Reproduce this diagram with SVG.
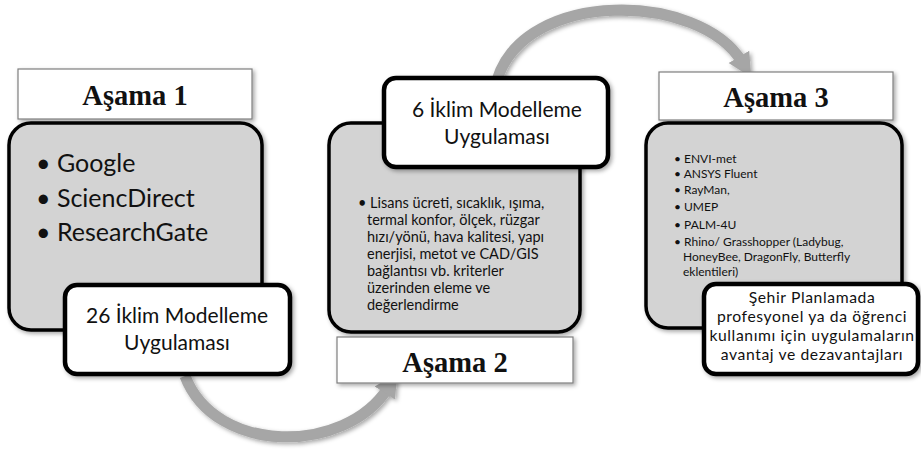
<svg xmlns="http://www.w3.org/2000/svg" width="921" height="450" viewBox="0 0 921 450">
<style>
.lbl{fill:#fff;stroke:#7f7f7f;stroke-width:1.2}
.lbltxt{font-family:"Liberation Serif",serif;font-weight:bold;font-size:28.5px;fill:#111;text-anchor:middle}
.gray{fill:#d3d3d3;stroke:#000;stroke-width:3.5}
.white{fill:#fff;stroke:#000;stroke-width:4.5}
.t{font-family:Lato,"Open Sans",sans-serif;fill:#111}
.c{text-anchor:middle}
.arc{fill:none;stroke:#a6a6a6;stroke-width:11}
</style>
<defs>
<filter id="sh" x="-10%" y="-10%" width="130%" height="130%">
<feDropShadow dx="2" dy="2" stdDeviation="2" flood-color="#000" flood-opacity="0.35"/>
</filter>
<marker id="ah" markerUnits="userSpaceOnUse" markerWidth="30" markerHeight="30" refX="6" refY="15" orient="auto">
<path d="M0,3 L24,15 L0,27 Z" fill="#a6a6a6"/>
</marker>
</defs>
<g id="connectors" filter="url(#sh)">
<path class="arc" d="M185,376 C215,455 345,455 388,388" marker-end="url(#ah)"/>
<path class="arc" d="M497,80 C525,-12 700,-8 742,62" marker-end="url(#ah)"/>
</g>
<g id="stage1">
<rect class="lbl" x="18" y="69" width="234" height="50" filter="url(#sh)"/>
<text class="lbltxt" x="135" y="105">Aşama 1</text>
<rect class="gray" x="9" y="123" width="253" height="207" rx="22" filter="url(#sh)"/>
<g class="t" font-size="25">
<text x="36" y="172">• Google</text>
<text x="36" y="207">• SciencDirect</text>
<text x="36" y="241">• ResearchGate</text>
</g>
<rect class="white" x="65" y="285" width="225" height="89" rx="12" filter="url(#sh)"/>
<text class="t c" font-size="21" x="177" y="323">26 İklim Modelleme</text>
<text class="t c" font-size="21" x="177" y="350">Uygulaması</text>
</g>
<g id="stage2">
<rect class="gray" x="329" y="123" width="251" height="209" rx="22" filter="url(#sh)"/>
<rect class="white" x="384" y="78" width="224" height="89" rx="12" filter="url(#sh)"/>
<text class="t c" font-size="21" x="497" y="117">6 İklim Modelleme</text>
<text class="t c" font-size="21" x="497" y="144">Uygulaması</text>
<g class="t" font-size="14.5">
<text x="358" y="208">• Lisans ücreti, sıcaklık, ışıma,</text>
<text x="367" y="225">termal konfor, ölçek, rüzgar</text>
<text x="367" y="242">hızı/yönü, hava kalitesi, yapı</text>
<text x="367" y="259">enerjisi, metot ve CAD/GIS</text>
<text x="367" y="276">bağlantısı vb. kriterler</text>
<text x="367" y="293">üzerinden eleme ve</text>
<text x="367" y="310">değerlendirme</text>
</g>
<rect class="lbl" x="337" y="337" width="236" height="46" filter="url(#sh)"/>
<text class="lbltxt" x="455" y="372">Aşama 2</text>
</g>
<g id="stage3">
<rect class="lbl" x="659" y="72" width="234" height="48" filter="url(#sh)"/>
<text class="lbltxt" x="776" y="107">Aşama 3</text>
<rect class="gray" x="646" y="123" width="256" height="205" rx="22" filter="url(#sh)"/>
<g class="t" font-size="12">
<text x="674" y="163">• ENVI-met</text>
<text x="674" y="178">• ANSYS Fluent</text>
<text x="674" y="194">• RayMan,</text>
<text x="674" y="211">• UMEP</text>
<text x="674" y="229">• PALM-4U</text>
<text x="674" y="246">• Rhino/ Grasshopper (Ladybug,</text>
<text x="683" y="261">HoneyBee, DragonFly, Butterfly</text>
<text x="683" y="276">eklentileri)</text>
</g>
<rect class="white" x="704" y="284" width="214" height="90" rx="12" filter="url(#sh)"/>
<g class="t c" font-size="15.7" letter-spacing="0.6">
<text x="812" y="303">Şehir Planlamada</text>
<text x="812" y="322">profesyonel ya da öğrenci</text>
<text x="812" y="341">kullanımı için uygulamaların</text>
<text x="812" y="360">avantaj ve dezavantajları</text>
</g>
</g>
</svg>
